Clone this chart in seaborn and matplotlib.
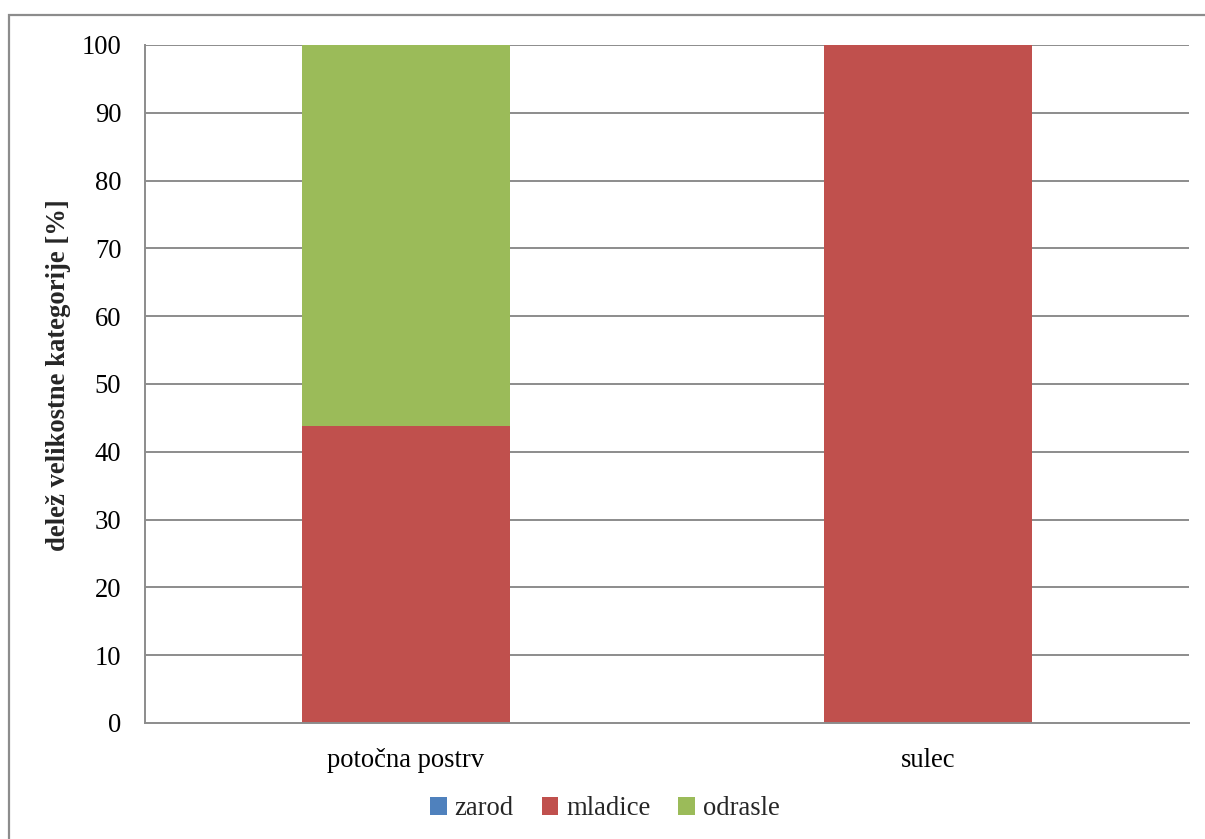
import matplotlib
matplotlib.use("Agg")
import matplotlib.pyplot as plt
import seaborn as sns
import pandas as pd
import numpy as np
from matplotlib.patches import Rectangle, Patch

sns.set_theme(style="white")
plt.rcParams["font.family"] = ["Liberation Serif", "DejaVu Serif"]

# Share of each size class per species [%]
species = ["potočna postrv", "sulec"]
zarod = [0.0, 0.0]
mladice = [43.8, 100.0]
odrasle = [56.2, 0.0]

series_names = ["zarod", "mladice", "odrasle"]
colors = {"zarod": "#4F81BD", "mladice": "#C0504D", "odrasle": "#9BBB59"}

# Cumulative heights for stacking (draw the tallest layer first)
z = np.array(zarod)
m = z + np.array(mladice)
o = m + np.array(odrasle)
layers = [("odrasle", o), ("mladice", m), ("zarod", z)]

FS = 19.2

fig = plt.figure(figsize=(12.05, 8.39), dpi=100)
ax = fig.add_axes([0.1203, 0.1383, 0.8664, 0.8081])

grid_color = "#8C8C8C"
for yv in range(10, 101, 10):
    ax.axhline(yv, color=grid_color, linewidth=1.4, zorder=0)

for name, vals in layers:
    df = pd.DataFrame({"vrsta": species, "delez": vals})
    sns.barplot(data=df, x="vrsta", y="delez", color=colors[name],
                width=0.4, saturation=1, ax=ax, zorder=2,
                edgecolor="none", linewidth=0)

ax.set_xlim(-0.5, 1.5)
ax.set_ylim(0, 100)
ax.set_yticks(range(0, 101, 10))
ax.set_yticklabels([str(v) for v in range(0, 101, 10)], fontsize=FS)
ax.set_xticks([0, 1])
ax.set_xticklabels(species, fontsize=FS)
ax.set_xticks([-0.5, 0.5, 1.5], minor=True)
ax.tick_params(axis="x", which="major", length=0, pad=18)
ax.tick_params(axis="x", which="minor", length=7, width=1.4, color=grid_color, direction="out")
ax.tick_params(axis="y", which="major", length=6, width=1.4, color=grid_color,
               direction="out", pad=11, labelcolor="black")
ax.tick_params(axis="x", labelcolor="black")

ax.set_xlabel("")
ax.set_ylabel("delež velikostne kategorije [%]", fontsize=FS, fontweight="bold")
ax.yaxis.set_label_coords(-0.071, 0.513)

for side in ["top", "right"]:
    ax.spines[side].set_visible(False)
for side in ["left", "bottom"]:
    ax.spines[side].set_color(grid_color)
    ax.spines[side].set_linewidth(1.4)
    ax.spines[side].set_zorder(3)

handles = [Patch(facecolor=colors[n], edgecolor="none", label=n) for n in series_names]
fig.legend(handles=handles, loc="center", bbox_to_anchor=(0.502, 0.036), ncol=3,
           frameon=False, fontsize=FS, handlelength=0.62, handleheight=0.62,
           handletextpad=0.3, columnspacing=1.05)

# Outer chart border
fig.patches.append(Rectangle((9 / 1205, -0.05), 1.2, (839 - 15) / 839 + 0.05,
                             transform=fig.transFigure, fill=False,
                             edgecolor="#8C8C8C", linewidth=1.6))

fig.savefig("out.png", dpi=100)
